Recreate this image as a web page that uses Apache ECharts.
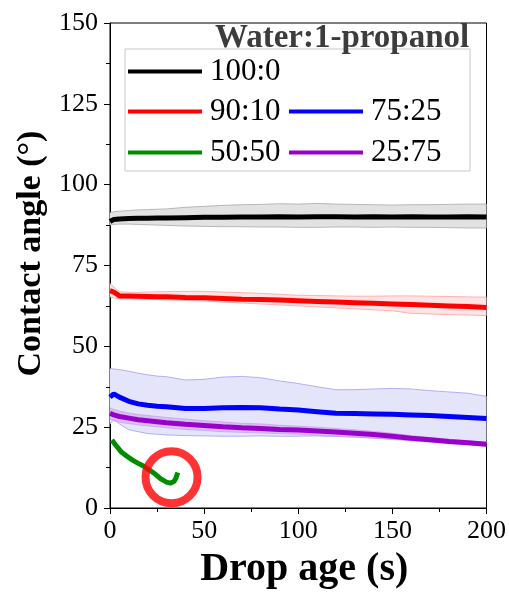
<!DOCTYPE html>
<html><head><meta charset="utf-8">
<script src="https://cdn.jsdelivr.net/npm/echarts@6/dist/echarts.min.js"></script>
<style>html,body{margin:0;padding:0;background:#fff}#c{width:509px;height:595px}</style>
</head><body><div id="c"></div>
<script>
const times = [0,2,5,10,15,20,25,30,40,50,60,70,80,90,100,110,120,130,140,150,160,170,180,190,200];
const blackMean = [88.6,89.2,89.4,89.5,89.6,89.6,89.7,89.7,89.8,89.9,89.9,90.0,90.0,90.1,90.0,90.1,90.1,90.0,90.1,90.0,90.1,90.0,90.0,90.1,90.0];
const blackUpper = [91.3,91.6,91.8,92.0,92.2,92.3,92.4,92.5,93.0,93.3,93.6,93.8,93.9,94.1,94.0,94.2,94.0,93.9,93.8,93.7,93.8,93.8,93.9,94.0,94.0];
const blackLower = [87.5,87.7,87.8,87.8,87.7,87.6,87.5,87.4,87.2,87.1,87.0,87.0,86.9,86.9,86.8,86.8,86.9,86.9,86.8,86.9,86.8,86.8,86.7,86.6,86.6];
const redMean = [67.2,66.8,65.6,65.6,65.5,65.4,65.3,65.3,65.1,65.0,64.8,64.6,64.5,64.3,64.1,63.9,63.7,63.5,63.3,63.1,62.9,62.7,62.5,62.3,62.0];
const redUpper = [69.4,68.4,66.9,66.7,66.7,66.8,66.9,66.9,67.0,67.0,66.8,66.6,66.4,66.1,65.8,65.7,65.6,65.5,65.5,65.6,65.6,65.5,65.4,65.3,65.2];
const redLower = [65.3,65.0,64.7,64.7,64.6,64.5,64.5,64.4,64.2,64.0,63.7,63.4,63.1,62.8,62.5,62.2,61.9,61.6,61.3,61.0,60.2,60.0,59.8,59.7,59.5];
const blueMean = [34.3,35.3,34.3,33.0,32.2,31.8,31.5,31.3,30.8,30.8,31.0,31.1,31.0,30.6,30.3,29.8,29.3,29.2,29.1,29.0,28.8,28.6,28.3,28.0,27.7];
const blueUpper = [43.1,43.0,42.8,42.3,41.7,41.2,40.8,40.6,39.6,39.8,40.5,40.7,40.3,39.3,38.5,37.5,36.6,36.6,36.8,37.0,36.8,36.3,35.9,35.5,34.5];
const blueLower = [26.0,27.3,26.0,24.2,23.6,23.0,22.8,22.6,22.4,22.3,22.2,22.2,22.3,22.2,22.2,22.3,22.1,21.9,21.6,21.2,21.0,20.8,20.6,20.3,20.0];
const purpleMean = [29.3,28.8,28.3,27.8,27.3,27.0,26.7,26.4,25.9,25.5,25.1,24.8,24.6,24.3,24.1,23.8,23.5,23.1,22.7,22.2,21.6,21.1,20.6,20.2,19.7];
const purpleUpper = [31.0,30.5,30.0,29.4,28.9,28.6,28.3,28.0,27.5,27.0,26.6,26.2,26.0,25.6,25.3,25.0,24.6,24.2,23.7,23.1,22.4,21.8,21.3,20.8,20.3];
const purpleLower = [27.5,27.0,26.5,26.1,25.7,25.4,25.1,24.8,24.3,24.0,23.6,23.4,23.2,23.0,22.8,22.5,22.3,22.0,21.7,21.3,20.8,20.4,20.0,19.6,19.1];
const greenTimes = [1,3,6,9,12,15,18,21,24,27,30,32,33,34,35,36];
const greenMean = [21.0,19.5,17.3,16.0,14.8,13.8,12.9,11.7,10.5,9.0,8.0,7.7,7.8,8.2,9.2,11.0];
const markedPoint = [[32.7, 9.5]];
const seriesNames = ['100:0','90:10','75:25','50:50','25:75'];
const legendTitle = 'Water:1-propanol';
const xTicks = [0,50,100,150,200];
const yTicks = [0,25,50,75,100,125,150];

const FONT = '"Liberation Serif","Times New Roman",serif';
const pair = (ts, vs) => ts.map((t,i)=>[t, vs[i]]);

function band(key, lower, upper, edge, fill) {
  return {
    type:'custom', name:key, silent:true, z:1, clip:true,
    data:[[times[0], lower[0]]],
    renderItem:(params, api) => {
      const up = times.map((t,i)=>api.coord([t, upper[i]]));
      const lo = times.map((t,i)=>api.coord([t, lower[i]]));
      const poly = up.concat(lo.slice().reverse());
      return {type:'group', children:[
        {type:'polygon', shape:{points:poly}, style:{fill:fill, stroke:null}},
        {type:'polyline', shape:{points:up}, style:{stroke:edge, lineWidth:0.8, fill:null}},
        {type:'polyline', shape:{points:lo}, style:{stroke:edge, lineWidth:0.8, fill:null}}
      ]};
    }
  };
}
function mainLine(name, ts, vs, color) {
  return {type:'line', name, data:pair(ts, vs), symbol:'none', lineStyle:{color, width:5}, itemStyle:{color}, z:3};
}

const chart = echarts.init(document.getElementById('c'));
const legendBase = (name, left, top) => ({
  data:[name], left, top, icon:'rect', itemWidth:74, itemHeight:4, itemGap:0, padding:0,
  textStyle:{fontFamily:FONT, fontSize:31, color:'#000', lineHeight:30, padding:[0,0,0,3]},
  selectedMode:false
});
chart.setOption({
  animation:false,
  backgroundColor:'#fff',
  grid:{left:110, right:22, top:23, bottom:85, show:true, borderColor:'#000', borderWidth:1},
  title:{text:legendTitle, left:215, top:22, padding:0,
    textStyle:{fontFamily:FONT, fontSize:33, fontWeight:'bold', color:'#3c3c3c'}},
  legend:[
    legendBase(seriesNames[0], 128, 56),
    legendBase(seriesNames[1], 128, 96),
    legendBase(seriesNames[2], 289, 96),
    legendBase(seriesNames[3], 128, 137),
    legendBase(seriesNames[4], 289, 137)
  ],
  graphic:[{type:'rect', shape:{x:125, y:49, width:345, height:122},
    style:{fill:'rgba(0,0,0,0)', stroke:'#c8c8c8', lineWidth:1}, z:0}],
  xAxis:{type:'value', min:xTicks[0], max:xTicks[xTicks.length-1], interval:50,
    name:'Drop age (s)', nameLocation:'middle', nameGap:42,
    nameTextStyle:{fontFamily:FONT, fontSize:40, fontWeight:'bold', color:'#000', padding:[0,0,0,12]},
    axisLine:{show:true, lineStyle:{color:'#000', width:1}},
    axisTick:{show:true, length:6, lineStyle:{color:'#000'}},
    minorTick:{show:true, splitNumber:2, length:4, lineStyle:{color:'#000'}},
    splitLine:{show:false},
    axisLabel:{fontFamily:FONT, fontSize:26, color:'#000', margin:10}},
  yAxis:{type:'value', min:yTicks[0], max:yTicks[yTicks.length-1], interval:25,
    name:'Contact angle (°)', nameLocation:'middle', nameGap:62,
    nameTextStyle:{fontFamily:FONT, fontSize:34, fontWeight:'bold', color:'#000', padding:[0,0,0,24]},
    axisLine:{show:true, lineStyle:{color:'#000', width:1}},
    axisTick:{show:true, length:6, lineStyle:{color:'#000'}},
    minorTick:{show:true, splitNumber:2, length:4, lineStyle:{color:'#000'}},
    splitLine:{show:false},
    axisLabel:{fontFamily:FONT, fontSize:26, color:'#000', margin:12}},
  series:[
    band('bk', blackLower, blackUpper, '#a8a8a8', '#e2e2e2'),
    band('rd', redLower, redUpper, '#ffa0a0', '#ffe2e2'),
    band('bl', blueLower, blueUpper, '#a0a0f0', '#e4e4fb'),
    band('pu', purpleLower, purpleUpper, '#d0a0e8', 'rgba(180,110,220,0.30)'),
    mainLine(seriesNames[0], times, blackMean, '#000000'),
    mainLine(seriesNames[1], times, redMean, '#ff0000'),
    mainLine(seriesNames[2], times, blueMean, '#0000ff'),
    mainLine(seriesNames[4], times, purpleMean, '#9900cc'),
    mainLine(seriesNames[3], greenTimes, greenMean, '#008c00'),
    {type:'scatter', name:'mark', data:markedPoint, symbol:'circle', symbolSize:52,
      itemStyle:{color:'rgba(0,0,0,0)', borderColor:'#ff0000', borderWidth:8}, z:5, silent:true}
  ]
});
</script></body></html>
